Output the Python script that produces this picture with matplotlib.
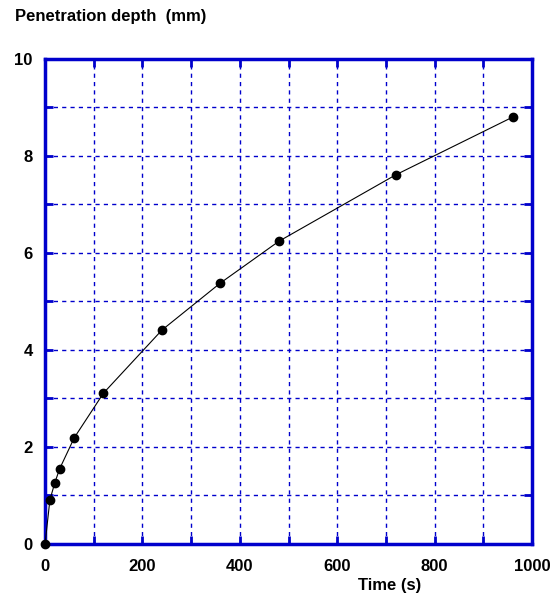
import matplotlib.pyplot as plt
from matplotlib.ticker import MultipleLocator

time_s = [0, 10, 20, 30, 60, 120, 240, 360, 480, 720, 960]
depth_mm = [0, 0.91, 1.26, 1.55, 2.19, 3.11, 4.41, 5.38, 6.24, 7.61, 8.80]

blue = '#0000CC'
plt.rcParams['font.family'] = ['Liberation Sans', 'DejaVu Sans']
plt.rcParams['font.weight'] = 'bold'

fig = plt.figure(figsize=(5.56, 5.97), dpi=100)
ax = fig.add_axes([0.081, 0.0888, 0.876, 0.8125])

ax.plot(time_s, depth_mm, color='black', lw=0.8, marker='o', ms=6,
        mfc='black', mec='black', zorder=3, clip_on=False)

ax.set_xlim(0, 1000)
ax.set_ylim(0, 10)
ax.xaxis.set_major_locator(MultipleLocator(200))
ax.xaxis.set_minor_locator(MultipleLocator(100))
ax.yaxis.set_major_locator(MultipleLocator(2))
ax.yaxis.set_minor_locator(MultipleLocator(1))

ax.grid(which='both', color=blue, linestyle=(0, (3, 3)), lw=1)
for s in ax.spines.values():
    s.set_color(blue)
    s.set_linewidth(2.5)
ax.tick_params(which='both', direction='in', top=True, right=True,
               color=blue, width=2, length=6, labelsize=12)
ax.tick_params(axis='x', pad=11)
ax.tick_params(axis='y', pad=9)

fig.text(0.027, 0.972, 'Penetration depth  (mm)', fontsize=12, fontweight='bold',
         va='center', ha='left')
fig.text(0.70, 0.02, 'Time (s)', fontsize=12, fontweight='bold',
         va='center', ha='center')

fig.savefig('out.png', dpi=100)
